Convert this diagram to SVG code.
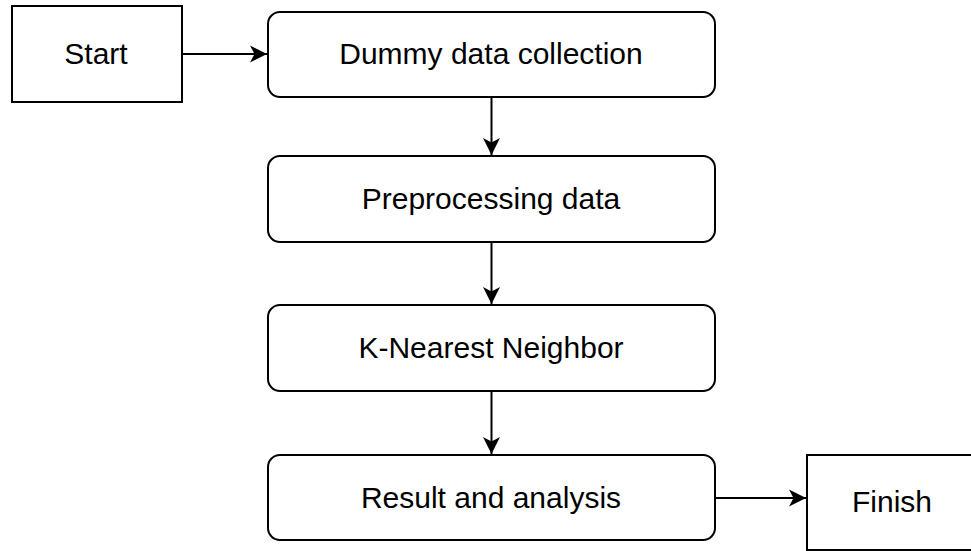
<svg xmlns="http://www.w3.org/2000/svg" width="971" height="551" viewBox="0 0 971 551">
  <style>
    .box { fill: #ffffff; stroke: #000000; stroke-width: 2; }
    .label { font-family: "Liberation Sans", Arial, sans-serif; font-size: 30px; fill: #000000; text-anchor: middle; }
    .edge { fill: none; stroke: #000000; stroke-width: 2; }
  </style>
  <defs>
    <marker id="arrow" viewBox="0 0 18 18" refX="17" refY="9" markerWidth="18" markerHeight="18" markerUnits="userSpaceOnUse" orient="auto">
      <path d="M17,9 L0,0.5 L4.5,9 L0,17.5 Z" fill="#000000"/>
    </marker>
  </defs>
  <rect width="971" height="551" fill="#ffffff"/>

  <g id="start">
    <rect class="box" x="12" y="6" width="170" height="96"/>
    <text class="label" x="96" y="64">Start</text>
  </g>
  <g id="dummy-data-collection">
    <rect class="box" x="268" y="12" width="447" height="85" rx="12" ry="12"/>
    <text class="label" x="491" y="64">Dummy data collection</text>
  </g>
  <g id="preprocessing-data">
    <rect class="box" x="268" y="156" width="447" height="86" rx="12" ry="12"/>
    <text class="label" x="491" y="209">Preprocessing data</text>
  </g>
  <g id="k-nearest-neighbor">
    <rect class="box" x="268" y="305" width="447" height="86" rx="12" ry="12"/>
    <text class="label" x="491" y="358">K-Nearest Neighbor</text>
  </g>
  <g id="result-and-analysis">
    <rect class="box" x="268" y="455" width="447" height="85" rx="12" ry="12"/>
    <text class="label" x="491" y="508">Result and analysis</text>
  </g>
  <g id="finish">
    <rect class="box" x="807" y="455" width="170" height="95"/>
    <text class="label" x="892" y="512">Finish</text>
  </g>

  <g id="connectors">
    <line class="edge" x1="182" y1="54" x2="267" y2="54" marker-end="url(#arrow)"/>
    <line class="edge" x1="491.5" y1="97" x2="491.5" y2="155" marker-end="url(#arrow)"/>
    <line class="edge" x1="491.5" y1="242" x2="491.5" y2="304" marker-end="url(#arrow)"/>
    <line class="edge" x1="491.5" y1="391" x2="491.5" y2="454" marker-end="url(#arrow)"/>
    <line class="edge" x1="715" y1="498" x2="806" y2="498" marker-end="url(#arrow)"/>
  </g>
</svg>
